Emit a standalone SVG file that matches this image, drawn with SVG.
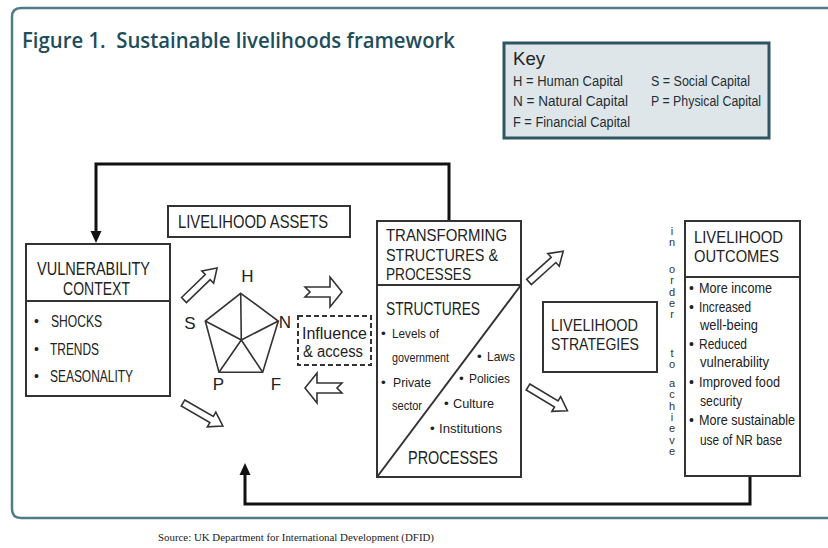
<svg xmlns="http://www.w3.org/2000/svg" xmlns:xlink="http://www.w3.org/1999/xlink" width="828" height="548" viewBox="0 0 828 548">
  <style>
    .t{font-family:"Liberation Sans Narrow","Liberation Sans",Arial,sans-serif;fill:#222}
    .hd{font-size:17px}
    .bl{font-size:14px}
    .ky{font-size:14px;fill:#1f2f36}
    .box{fill:#fff;stroke:#333;stroke-width:2}
    .rule{stroke:#333;stroke-width:2}
    .hollow{fill:#fff;stroke:#333;stroke-width:1.6;stroke-linejoin:miter}
    .fb{fill:none;stroke:#111;stroke-width:3}
    .pent{fill:none;stroke:#333;stroke-width:1.6}
    .vt{font-family:"Liberation Sans",Arial,sans-serif;font-size:11px;fill:#333;writing-mode:vertical-rl;text-orientation:upright;letter-spacing:-0.7px}
  </style>
  <defs>
    <marker id="ah" viewBox="0 0 12 12" refX="2" refY="6" markerWidth="12" markerHeight="12" markerUnits="userSpaceOnUse" orient="auto">
      <path d="M0,0.5 L12,6 L0,11.5 Z" fill="#111"/>
    </marker>
    <!-- slim hollow arrow, tail at origin pointing along +x -->
    <path id="diag" class="hollow" d="M0,-3.5 L33,-3.5 L33,-8.5 L46,0 L33,8.5 L33,3.5 L0,3.5 Z"/>
    <!-- wide hollow arrow with notched tail -->
    <path id="wide" class="hollow" d="M0,-5 L25,-5 L25,-15 L37,0 L25,15 L25,5 L0,5 L5,0 Z"/>
  </defs>

  <rect width="828" height="548" fill="#fff"/>

  <!-- outer frame, open on the right -->
  <path d="M828,8 H21 Q12,8 12,17 V509 Q12,518 21,518 H828" fill="none" stroke="#4d7d89" stroke-width="2.5"/>

  <text x="22" y="48" style="white-space:pre" font-family="'Open Sans','Liberation Sans',sans-serif" font-weight="600" font-size="22" fill="#1e4d5c" textLength="433" lengthAdjust="spacingAndGlyphs">Figure 1.  Sustainable livelihoods framework</text>

  <!-- key -->
  <g id="key">
    <rect x="504" y="43" width="265" height="95" fill="#dfe6ea" stroke="#2d5563" stroke-width="3"/>
    <text class="t" x="513" y="65" font-size="19" fill="#1f2f36" textLength="32" lengthAdjust="spacingAndGlyphs">Key</text>
    <text class="t ky" x="513" y="86" textLength="110" lengthAdjust="spacingAndGlyphs">H = Human Capital</text>
    <text class="t ky" x="513" y="106" textLength="115" lengthAdjust="spacingAndGlyphs">N = Natural Capital</text>
    <text class="t ky" x="513" y="127" textLength="117" lengthAdjust="spacingAndGlyphs">F = Financial Capital</text>
    <text class="t ky" x="651" y="86" textLength="99" lengthAdjust="spacingAndGlyphs">S = Social Capital</text>
    <text class="t ky" x="651" y="106" textLength="110" lengthAdjust="spacingAndGlyphs">P = Physical Capital</text>
  </g>

  <!-- connectors -->
  <g id="connectors">
    <path class="fb" d="M449,221 V164 H96 V233" marker-end="url(#ah)"/>
    <path class="fb" d="M750,476 V504 H245 V473" marker-end="url(#ah)"/>
    <use xlink:href="#diag" transform="translate(184,300) rotate(-44)"/>
    <use xlink:href="#diag" transform="translate(183,403) rotate(30)"/>
    <use xlink:href="#wide" transform="translate(305,292)"/>
    <use xlink:href="#wide" transform="translate(342,388) rotate(180)"/>
    <use xlink:href="#diag" transform="translate(529,282) rotate(-42)"/>
    <use xlink:href="#diag" transform="translate(528,387) rotate(31)"/>
  </g>

  <!-- vulnerability context -->
  <g id="vulnerability">
    <rect class="box" x="26" y="244" width="144" height="152"/>
    <line class="rule" x1="26" y1="301" x2="170" y2="301"/>
    <text class="t" x="37" y="275" font-size="17.5" textLength="113" lengthAdjust="spacingAndGlyphs">VULNERABILITY</text>
    <text class="t" x="63" y="295" font-size="17.5" textLength="67" lengthAdjust="spacingAndGlyphs">CONTEXT</text>
    <text class="t" x="34" y="326" font-size="14">•</text>
    <text class="t" x="51" y="327" font-size="16" textLength="51" lengthAdjust="spacingAndGlyphs">SHOCKS</text>
    <text class="t" x="34" y="354" font-size="14">•</text>
    <text class="t" x="50" y="355" font-size="16" textLength="49" lengthAdjust="spacingAndGlyphs">TRENDS</text>
    <text class="t" x="34" y="381" font-size="14">•</text>
    <text class="t" x="50" y="382" font-size="16" textLength="83" lengthAdjust="spacingAndGlyphs">SEASONALITY</text>
  </g>

  <!-- livelihood assets -->
  <g id="assets">
    <rect class="box" x="168" y="206" width="182" height="31"/>
    <text class="t" x="178" y="228" font-size="19" textLength="150" lengthAdjust="spacingAndGlyphs">LIVELIHOOD ASSETS</text>
  </g>

  <!-- asset pentagon -->
  <g id="pentagon">
    <polygon class="pent" points="240.7,293.3 278.3,321 262.7,372.3 219,372.3 205.3,321"/>
    <path class="pent" d="M241.3,340 L240.7,293.3 M241.3,340 L278.3,321 M241.3,340 L262.7,372.3 M241.3,340 L219,372.3 M241.3,340 L205.3,321"/>
    <g font-family="'Liberation Sans',Arial,sans-serif" font-size="17" fill="#222" text-anchor="middle">
      <text x="247.5" y="282">H</text>
      <text x="190" y="329">S</text>
      <text x="285" y="328">N</text>
      <text x="218.5" y="390">P</text>
      <text x="276" y="390">F</text>
    </g>
  </g>

  <!-- influence and access -->
  <g id="influence">
    <rect x="298" y="316" width="73" height="49" fill="#fff" stroke="#333" stroke-width="2" stroke-dasharray="5 3"/>
    <text class="t" x="302" y="339" font-size="16" textLength="65" lengthAdjust="spacingAndGlyphs">Influence</text>
    <text class="t" x="303" y="357" font-size="16" textLength="60" lengthAdjust="spacingAndGlyphs">&amp; access</text>
  </g>

  <!-- transforming structures and processes -->
  <g id="transforming">
    <rect class="box" x="377" y="221" width="144" height="256"/>
    <line class="rule" x1="377" y1="285" x2="521" y2="285"/>
    <line class="rule" x1="521" y1="285" x2="377" y2="477"/>
    <text class="t hd" x="386" y="241" textLength="121" lengthAdjust="spacingAndGlyphs">TRANSFORMING</text>
    <text class="t hd" x="386" y="261" textLength="112" lengthAdjust="spacingAndGlyphs">STRUCTURES &amp;</text>
    <text class="t hd" x="386" y="280" textLength="85" lengthAdjust="spacingAndGlyphs">PROCESSES</text>
    <text class="t" x="386" y="315" font-size="19" textLength="94" lengthAdjust="spacingAndGlyphs">STRUCTURES</text>
    <g class="t" font-size="13.5">
      <text x="381" y="338">•</text>
      <text x="392" y="338" textLength="47" lengthAdjust="spacingAndGlyphs">Levels of</text>
      <text x="392" y="362" textLength="57" lengthAdjust="spacingAndGlyphs">government</text>
      <text x="381" y="387">•</text>
      <text x="393" y="387" textLength="38" lengthAdjust="spacingAndGlyphs">Private</text>
      <text x="392" y="410" textLength="30" lengthAdjust="spacingAndGlyphs">sector</text>
      <text x="477" y="361">•</text>
      <text x="487" y="361" textLength="28" lengthAdjust="spacingAndGlyphs">Laws</text>
      <text x="459" y="383">•</text>
      <text x="469" y="383" textLength="41" lengthAdjust="spacingAndGlyphs">Policies</text>
      <text x="444" y="408">•</text>
      <text x="453" y="408" textLength="41" lengthAdjust="spacingAndGlyphs">Culture</text>
      <text x="430" y="433">•</text>
      <text x="439" y="433" textLength="63" lengthAdjust="spacingAndGlyphs">Institutions</text>
    </g>
    <text class="t" x="408" y="464" font-size="19" textLength="90" lengthAdjust="spacingAndGlyphs">PROCESSES</text>
  </g>

  <!-- livelihood strategies -->
  <g id="strategies">
    <rect class="box" x="543" y="302" width="114" height="70"/>
    <text class="t hd" x="551" y="331" textLength="87" lengthAdjust="spacingAndGlyphs">LIVELIHOOD</text>
    <text class="t hd" x="551" y="350" textLength="88" lengthAdjust="spacingAndGlyphs">STRATEGIES</text>
  </g>

  <!-- "in order to achieve", set vertically word by word -->
  <g id="in-order-to-achieve">
    <text class="vt" x="672" y="225">in</text>
    <text class="vt" x="672" y="263">order</text>
    <text class="vt" x="672" y="347">to</text>
    <text class="vt" x="672" y="377">achieve</text>
  </g>

  <!-- livelihood outcomes -->
  <g id="outcomes">
    <rect class="box" x="685" y="221" width="115" height="255"/>
    <line class="rule" x1="685" y1="277" x2="800" y2="277"/>
    <text class="t hd" x="694" y="243" textLength="89" lengthAdjust="spacingAndGlyphs">LIVELIHOOD</text>
    <text class="t hd" x="694" y="262" textLength="85" lengthAdjust="spacingAndGlyphs">OUTCOMES</text>
    <g class="t bl">
      <text x="689" y="293">•</text>
      <text x="699" y="293" textLength="73" lengthAdjust="spacingAndGlyphs">More income</text>
      <text x="689" y="312">•</text>
      <text x="699" y="312" textLength="52" lengthAdjust="spacingAndGlyphs">Increased</text>
      <text x="700" y="330" textLength="58" lengthAdjust="spacingAndGlyphs">well-being</text>
      <text x="689" y="349">•</text>
      <text x="699" y="349" textLength="48" lengthAdjust="spacingAndGlyphs">Reduced</text>
      <text x="700" y="367" textLength="69" lengthAdjust="spacingAndGlyphs">vulnerability</text>
      <text x="689" y="387">•</text>
      <text x="699" y="387" textLength="81" lengthAdjust="spacingAndGlyphs">Improved food</text>
      <text x="700" y="406" textLength="42" lengthAdjust="spacingAndGlyphs">security</text>
      <text x="689" y="425">•</text>
      <text x="699" y="425" textLength="96" lengthAdjust="spacingAndGlyphs">More sustainable</text>
      <text x="700" y="445" textLength="82" lengthAdjust="spacingAndGlyphs">use of NR base</text>
    </g>
  </g>

  <text x="158" y="541" font-family="'Liberation Serif','Times New Roman',serif" font-size="11" fill="#222" textLength="276" lengthAdjust="spacingAndGlyphs">Source: UK Department for International Development (DFID)</text>
</svg>
